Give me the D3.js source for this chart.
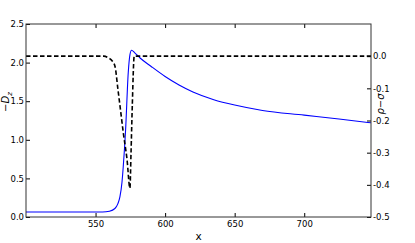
<!DOCTYPE html>
<html>
<head>
<meta charset="utf-8">
<script src="https://cdn.jsdelivr.net/npm/d3@7/dist/d3.min.js"></script>
<style>
  body { margin: 0; background: #fff; }
  svg text { font-family: "DejaVu Sans", sans-serif; fill: #000; }
  .tick line { stroke: #000; }
</style>
</head>
<body>
<div id="chart"></div>
<script>
// blue curve: -D_z vs x (left axis)
const dzX = [500, 555, 560, 563.9, 566, 567.5, 569, 569.9, 571.6, 573.5, 574.7, 575.9, 578, 582, 590, 600, 610, 620, 635, 650, 670, 700, 725, 748];
const dzY = [0.065, 0.065, 0.075, 0.11, 0.17, 0.26, 0.45, 0.65, 1.13, 1.87, 2.10, 2.16, 2.13, 2.06, 1.95, 1.82, 1.71, 1.62, 1.52, 1.45, 1.38, 1.32, 1.27, 1.22];

// dashed curve: rho - sigma vs x (right axis)
const rsX = [500, 556, 559, 562, 564, 566, 568, 570, 572.6, 574.7, 575.5, 576.4, 577.8, 748];
const rsY = [0, 0, -0.005, -0.015, -0.032, -0.1, -0.17, -0.24, -0.32, -0.41, -0.3, -0.155, 0, 0];

const xTicks = [550, 600, 650, 700];
const leftTicks = [0, 0.5, 1.0, 1.5, 2.0, 2.5];
const rightTicks = [-0.5, -0.4, -0.3, -0.2, -0.1, 0.0];

const W = 415, H = 243;
const m = {left: 26, right: 44, top: 24, bottom: 26};

const svg = d3.select("#chart").append("svg")
    .attr("width", W)
    .attr("height", H);

let x = d3.scaleLinear().domain([500, 748]).range([m.left, W - m.right]);
let yL = d3.scaleLinear().domain([0, 2.5]).range([H - m.bottom, m.top]);
let yR = d3.scaleLinear().domain([-0.5, 0.1]).range([H - m.bottom, m.top]);

function fmt(v) { return d3.format(".1f")(v).replace("−", "-"); }

// axes, ticks pointing inward
svg.append("g")
    .attr("transform", `translate(0,${H - m.bottom})`)
    .call(d3.axisTop(x).tickValues(xTicks).tickSize(4).tickFormat(""))
    .call(g => g.select(".domain").remove());
svg.append("g")
    .attr("transform", `translate(0,${H - m.bottom})`)
    .call(d3.axisBottom(x).tickValues(xTicks).tickSize(0).tickPadding(4))
    .call(g => g.select(".domain").remove())
    .selectAll("text").style("font-size", "8.5px");
svg.append("g")
    .attr("transform", `translate(0,${m.top})`)
    .call(d3.axisBottom(x).tickValues(xTicks).tickSize(4).tickFormat(""))
    .call(g => g.select(".domain").remove());

svg.append("g")
    .attr("transform", `translate(${m.left},0)`)
    .call(d3.axisRight(yL).tickValues(leftTicks).tickSize(4).tickFormat(""))
    .call(g => g.select(".domain").remove());
svg.append("g")
    .attr("transform", `translate(${m.left},0)`)
    .call(d3.axisLeft(yL).tickValues(leftTicks).tickSize(0).tickPadding(2).tickFormat(fmt))
    .call(g => g.select(".domain").remove())
    .selectAll("text").style("font-size", "8.5px");

svg.append("g")
    .attr("transform", `translate(${W - m.right},0)`)
    .call(d3.axisLeft(yR).tickValues(rightTicks).tickSize(4).tickFormat(""))
    .call(g => g.select(".domain").remove());
svg.append("g")
    .attr("transform", `translate(${W - m.right},0)`)
    .call(d3.axisRight(yR).tickValues(rightTicks).tickSize(0).tickPadding(2).tickFormat(fmt))
    .call(g => g.select(".domain").remove())
    .selectAll("text").style("font-size", "8.5px");

svg.selectAll(".tick text").style("fill", "#000");

// lines
const clip = svg.append("clipPath").attr("id", "clip")
  .append("rect")
    .attr("x", m.left).attr("y", m.top)
    .attr("width", W - m.left - m.right)
    .attr("height", H - m.top - m.bottom);

let blue = d3.line()
    .x((d, i) => x(dzX[i]))
    .y(d => yL(d))
    .curve(d3.curveMonotoneX);

svg.append("path")
    .datum(dzY)
    .attr("clip-path", "url(#clip)")
    .attr("d", blue)
    .attr("fill", "none")
    .attr("stroke", "#0000ff")
    .attr("stroke-width", 1.1);

let dashed = d3.line()
    .x((d, i) => x(rsX[i]))
    .y(d => yR(d))
    .curve(d3.curveMonotoneX);

svg.append("path")
    .datum(rsY)
    .attr("clip-path", "url(#clip)")
    .attr("d", dashed)
    .attr("fill", "none")
    .attr("stroke", "#000")
    .attr("stroke-width", 1.6)
    .attr("stroke-dasharray", "4.5,2.5");

// frame
svg.append("rect")
    .attr("x", m.left).attr("y", m.top)
    .attr("width", W - m.left - m.right)
    .attr("height", H - m.top - m.bottom)
    .attr("fill", "none")
    .attr("stroke", "#333")
    .attr("stroke-width", 1);

// labels
svg.append("text")
    .attr("x", (m.left + W - m.right) / 2)
    .attr("y", H - 3)
    .attr("text-anchor", "middle")
    .style("font-size", "10.5px")
    .text("x");

const lt = svg.append("text")
    .attr("transform", "translate(9,102) rotate(-90)")
    .attr("text-anchor", "middle")
    .style("font-size", "10px")
    .style("font-style", "italic");
lt.append("tspan").text("−D");
lt.append("tspan").attr("dy", 2.5).style("font-size", "7px").text("z");

svg.append("text")
    .attr("transform", "translate(384,104) rotate(-90)")
    .attr("text-anchor", "middle")
    .style("font-size", "10px")
    .style("font-style", "italic")
    .text("ρ−σ");
</script>
</body>
</html>
